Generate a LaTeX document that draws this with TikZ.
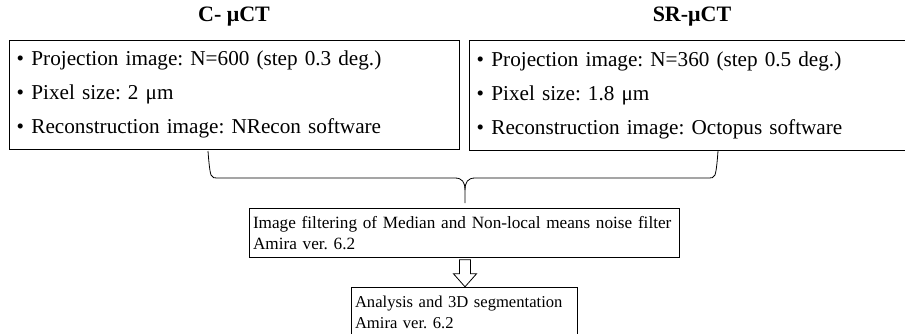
\documentclass[tikz,border=0pt]{standalone}
\usepackage{fontspec}
\setmainfont{Liberation Serif}
\frenchspacing
\hyphenpenalty=10000
\newcommand{\bul}{•\hspace{7.3pt}}
\begin{document}
\begin{tikzpicture}[x=1pt,y=-1pt,
  bigbox/.style={draw, line width=0.8pt, anchor=north west, align=left, inner xsep=7.3pt, inner ysep=0pt,
    font=\fontsize{21.2}{34}\selectfont},
  smallbox/.style={draw, line width=0.8pt, anchor=north, align=left,
    font=\fontsize{17.2}{20.5}\selectfont},
  heading/.style={font=\fontsize{22}{26}\selectfont\bfseries},
  brace/.style={line width=0.8pt},
  hollow/.style={draw, line width=0.8pt, fill=white}]
\useasboundingbox (0,0) rectangle (905,333);
\clip (0,0) rectangle (905,333);
\node[heading] (t1) at (234,17) {C- μCT};
\node[heading] (t2) at (692,17) {SR-μCT};
\node[bigbox, text width=435.4pt, minimum height=109pt] (left) at (9,40)
  {\bul Projection image: N=600 (step 0.3 deg.)\\
   \bul Pixel size: 2 μm\\
   \bul Reconstruction image: NRecon software};
\node[bigbox, text width=430pt, minimum height=110pt] (right) at (469,40)
  {\bul Projection image: N=360 (step 0.5 deg.)\\
   \bul Pixel size: 1.8 μm\\
   \bul Reconstruction image: Octopus software};
\node[smallbox, text width=422pt, inner xsep=4pt, minimum height=49pt] (mid) at (464,208)
  {Image filtering of Median and Non-local means noise filter\\Amira ver. 6.2};
\node[smallbox, font=\fontsize{16.6}{20.5}\selectfont, text width=218pt, inner xsep=4pt, inner ysep=9pt] (bot) at (464,287)
  {Analysis and 3D segmentation\\Amira ver. 6.2\\[6pt]};
% brace
\coordinate (bl) at (208,151);
\coordinate (br) at (718,151);
\coordinate (tip) at (465,203);
\draw[brace] (bl) .. controls (209,165) and (210,172) .. (211,175)
  .. controls (212,178) and (214,178) .. (220,178)
  -- (455,178) .. controls (462,178) and (465,182) .. (465,190) -- (tip);
\draw[brace] (br) .. controls (717,165) and (716,172) .. (715,175)
  .. controls (714,178) and (712,178) .. (706,178)
  -- (475,178) .. controls (468,178) and (465,182) .. (465,190);
% hollow arrow
\coordinate (a0) at (mid.south -| tip);
\draw[hollow] ([xshift=-5.5pt,yshift=-2pt]a0) -- ([xshift=5.5pt,yshift=-2pt]a0)
  -- ([xshift=5.5pt,yshift=-16pt]a0) -- ([xshift=11.5pt,yshift=-16pt]a0)
  -- ([yshift=-29pt]a0) -- ([xshift=-11.5pt,yshift=-16pt]a0)
  -- ([xshift=-5.5pt,yshift=-16pt]a0) -- cycle;
\end{tikzpicture}
\end{document}
